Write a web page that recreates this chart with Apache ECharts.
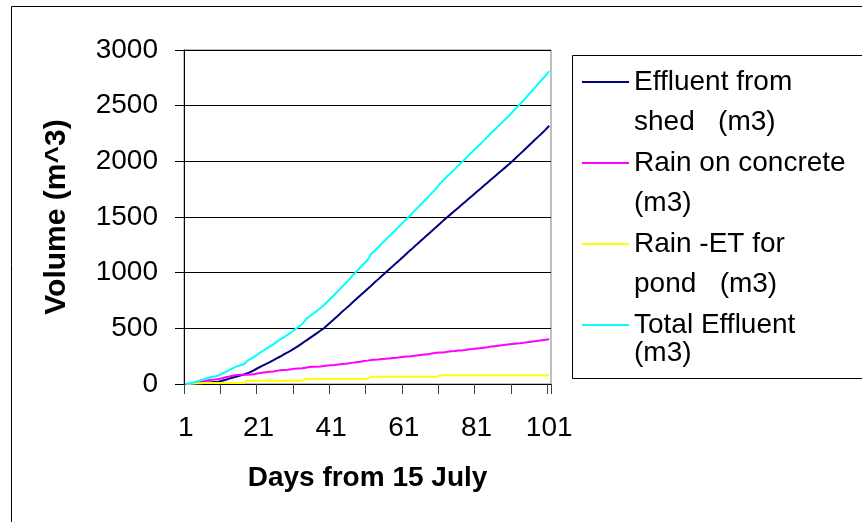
<!DOCTYPE html>
<html>
<head>
<meta charset="utf-8">
<script src="https://cdn.jsdelivr.net/npm/echarts@6/dist/echarts.min.js"></script>
<style>
html,body{margin:0;padding:0;background:#fff;}
#c{width:862px;height:522px;}
</style>
</head>
<body>
<div id="c"></div>
<script>
// Days 1..101
var days = [];
for (var i = 1; i <= 101; i++) days.push(String(i));

var seriesNames = ['Effluent from\nshed   (m3)', 'Rain on concrete\n(m3)', 'Rain -ET for\npond   (m3)', 'Total Effluent\n(m3)'];

var effluentShed = [
  0, 2, 4, 6, 8, 10, 13, 15, 18, 21,
  30, 38, 48, 58, 68, 77, 86, 96, 112, 128,
  146, 162, 178, 195, 212, 230, 247, 265, 283, 302,
  322, 342, 365, 388, 410, 432, 455, 478, 500, 530,
  559, 589, 618, 648, 677, 706, 736, 765, 795, 824,
  854, 883, 913, 942, 972, 1002, 1031, 1060, 1090, 1119,
  1148, 1178, 1207, 1237, 1266, 1296, 1325, 1354, 1384, 1413,
  1442, 1472, 1500, 1528, 1556, 1584, 1612, 1640, 1668, 1696,
  1724, 1752, 1780, 1808, 1836, 1864, 1892, 1920, 1948, 1976,
  2005, 2036, 2067, 2098, 2129, 2160, 2191, 2222, 2253, 2285, 2320
];

var rainConcrete = [
  0, 0, 5, 10, 18, 25, 32, 38, 40, 45,
  52, 60, 68, 75, 80, 82, 82, 84, 86, 90,
  96, 102, 106, 110, 112, 118, 124, 126, 128, 132,
  138, 140, 142, 146, 152, 154, 156, 158, 162, 166,
  168, 170, 176, 180, 182, 186, 192, 196, 200, 206,
  210, 216, 218, 220, 224, 226, 230, 234, 236, 240,
  244, 248, 250, 254, 258, 262, 266, 270, 276, 280,
  282, 284, 290, 294, 296, 300, 302, 306, 312, 314,
  318, 322, 326, 330, 336, 340, 344, 348, 352, 356,
  360, 364, 366, 370, 376, 380, 384, 388, 394, 398, 402
];

var rainPond = [
  0, 2, 4, 6, 7, 8, 9, 10, 10, 10,
  10, 10, 10, 10, 10, 10, 10, 30, 30, 30,
  30, 30, 30, 30, 30, 30, 30, 30, 30, 30,
  30, 30, 30, 45, 45, 45, 45, 45, 45, 45,
  45, 45, 45, 45, 45, 45, 45, 45, 45, 45,
  45, 66, 66, 66, 66, 66, 66, 66, 66, 66,
  66, 66, 66, 66, 66, 66, 66, 66, 66, 66,
  78, 78, 78, 78, 78, 78, 78, 78, 78, 78,
  78, 78, 78, 78, 78, 78, 78, 78, 78, 78,
  78, 78, 78, 78, 78, 78, 78, 78, 78, 78, 78
];

var totalEffluent = [
  0, 4, 13, 22, 33, 43, 54, 63, 68, 76,
  92, 108, 126, 143, 158, 169, 178, 210, 228, 248,
  272, 294, 314, 335, 354, 378, 401, 421, 441, 464,
  490, 512, 537, 579, 607, 631, 656, 681, 707, 741,
  772, 804, 839, 873, 906, 940, 978, 1012, 1046, 1080,
  1114, 1168, 1199, 1230, 1263, 1295, 1328, 1360, 1392, 1425,
  1458, 1492, 1523, 1557, 1590, 1624, 1657, 1690, 1726, 1759,
  1802, 1834, 1868, 1900, 1930, 1962, 1994, 2026, 2060, 2090,
  2122, 2154, 2186, 2218, 2252, 2284, 2316, 2348, 2380, 2412,
  2446, 2481, 2515, 2550, 2588, 2624, 2660, 2696, 2733, 2770, 2810
];

var yTicks = { min: 0, max: 3000, interval: 500 };

var colors = ['#000080', '#FF00FF', '#FFFF00', '#00FFFF'];
var seriesData = [effluentShed, rainConcrete, rainPond, totalEffluent];

var chart = echarts.init(document.getElementById('c'), null, { renderer: 'canvas' });
var FONT = 'Liberation Sans, Arial, sans-serif';

var series = seriesData.map(function (d, k) {
  return {
    name: seriesNames[k],
    type: 'line',
    data: d,
    symbol: 'none',
    showSymbol: false,
    smooth: false,
    lineStyle: { color: colors[k], width: 2 },
    itemStyle: { color: colors[k] },
    z: 3 + k
  };
});

function richStyle(lh) {
  return { fontFamily: FONT, fontSize: 28, color: '#000', lineHeight: lh };
}

chart.setOption({
  animation: false,
  backgroundColor: '#ffffff',
  grid: {
    left: 184, right: 311, top: 50, bottom: 138,
    show: true, borderColor: '#808080', borderWidth: 1, backgroundColor: 'transparent'
  },
  graphic: [
    { type: 'rect', shape: { x: 11.5, y: 6.5, width: 860, height: 540 },
      style: { fill: 'none', stroke: '#000', lineWidth: 1 }, silent: true, z: 0 },
    { type: 'rect', shape: { x: 572.5, y: 55.5, width: 320, height: 323 },
      style: { fill: 'none', stroke: '#000', lineWidth: 1 }, silent: true, z: 0 }
  ],
  legend: {
    orient: 'vertical',
    left: 582,
    top: 22,
    padding: 0,
    itemGap: -39,
    itemWidth: 47,
    itemHeight: 2,
    icon: 'rect',
    borderWidth: 0,
    data: seriesNames,
    formatter: function (name) {
      var parts = name.split('\n');
      if (name === seriesNames[seriesNames.length - 1]) {
        return '{p| }\n{p|' + parts[0] + '}\n{s|' + parts[1] + '}\n{g| }';
      }
      return '\n' + name;
    },
    textStyle: {
      fontFamily: FONT, fontSize: 28, color: '#000', lineHeight: 40,
      rich: { p: richStyle(40), s: richStyle(16), g: richStyle(24) }
    }
  },
  xAxis: {
    type: 'category',
    data: days,
    boundaryGap: true,
    name: 'Days from 15 July',
    nameLocation: 'middle',
    nameGap: 80,
    nameTextStyle: { fontFamily: FONT, fontSize: 28, fontWeight: 'bold', color: '#000' },
    axisLine: { lineStyle: { color: '#000', width: 1 } },
    axisTick: { show: true, interval: 9, length: 10, inside: false, lineStyle: { color: '#404040' } },
    axisLabel: { interval: 19, margin: 30, fontFamily: FONT, fontSize: 28, color: '#000' },
    splitLine: { show: false }
  },
  yAxis: {
    type: 'value',
    min: yTicks.min, max: yTicks.max, interval: yTicks.interval,
    name: 'Volume (m^3)',
    nameLocation: 'middle',
    nameGap: 112,
    nameRotate: 90,
    nameTextStyle: { fontFamily: FONT, fontSize: 30, fontWeight: 'bold', color: '#000' },
    axisLine: { show: true, lineStyle: { color: '#000', width: 1 } },
    axisTick: { show: true, length: 9, inside: false, lineStyle: { color: '#000' } },
    axisLabel: {
      margin: 26, fontFamily: FONT, fontSize: 28, color: '#000',
      formatter: function (v) { return String(v); }
    },
    splitLine: { show: true, lineStyle: { color: '#000', width: 1 } }
  },
  series: series
});
</script>
</body>
</html>
